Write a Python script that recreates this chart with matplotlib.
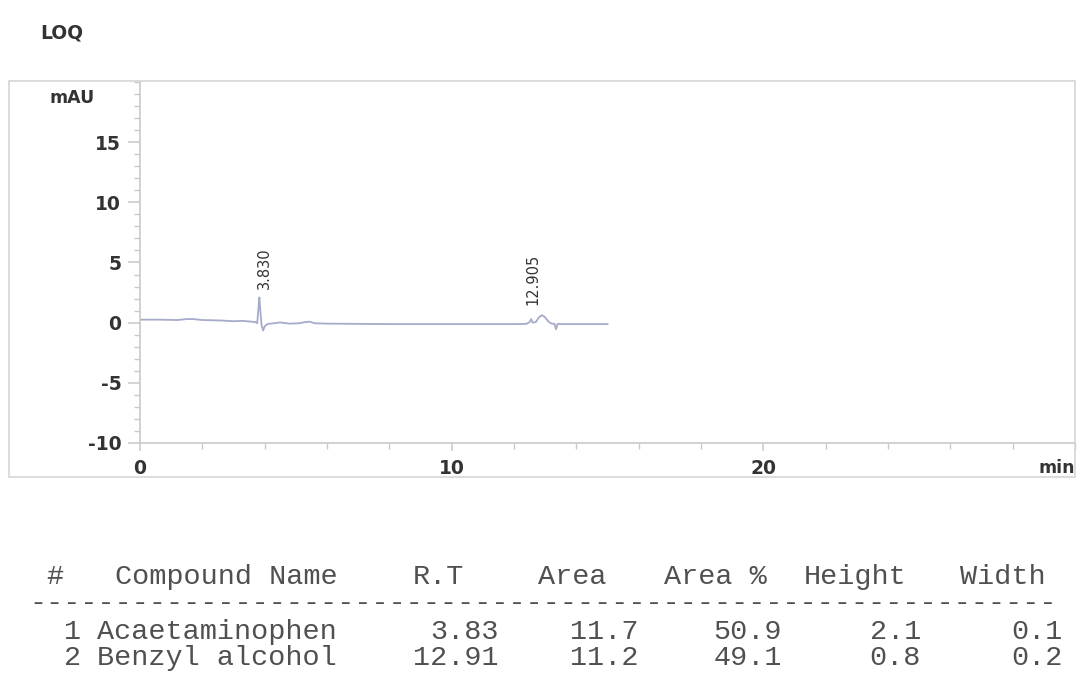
import numpy as np
import matplotlib.pyplot as plt
from matplotlib.patches import Rectangle
from matplotlib.ticker import MultipleLocator

plt.rcParams["axes.unicode_minus"] = False

# chromatogram trace (time in min, signal in mAU)
time_min = [0.0, 0.6, 1.2, 1.5, 1.7, 2.0, 2.6, 3.0, 3.3, 3.5, 3.7, 3.76, 3.8, 3.83,
            3.86, 3.9, 3.95, 4.0, 4.1, 4.3, 4.5, 4.8, 5.1, 5.3, 5.45, 5.6, 6.0,
            7.0, 8.0, 9.0, 10.0, 11.0, 12.0, 12.4, 12.5, 12.55, 12.6, 12.7, 12.8,
            12.9, 13.0, 13.1, 13.2, 13.3, 13.35, 13.4, 13.5, 14.0, 14.5, 15.0]
signal_mau = [0.25, 0.25, 0.22, 0.3, 0.3, 0.22, 0.18, 0.12, 0.15, 0.1, 0.05, -0.05, 1.2, 2.1,
              1.0, -0.2, -0.65, -0.3, -0.1, -0.05, 0.02, -0.08, -0.05, 0.05, 0.08, -0.05, -0.08,
              -0.1, -0.12, -0.12, -0.12, -0.12, -0.12, -0.1, 0.05, 0.3, 0.0, 0.05, 0.45,
              0.62, 0.45, 0.1, -0.08, -0.1, -0.55, -0.1, -0.12, -0.12, -0.12, -0.12]

peak_rt = [3.830, 12.905]
peak_top = [2.1, 0.8]

# integration results
compounds = ["Acaetaminophen", "Benzyl alcohol"]
rt_values = ["3.83", "12.91"]
area_values = ["11.7", "11.2"]
area_pct = ["50.9", "49.1"]
height_values = ["2.1", "0.8"]
width_values = ["0.1", "0.2"]

W, H = 1080, 684
fig = plt.figure(figsize=(W / 100, H / 100), dpi=100)

def fx(px):
    return px / W

def fy(py):
    return 1 - py / H

grey_txt = "#333333"
line_col = "#c9c9c9"
sans = "DejaVu Sans"

fig.text(fx(40), fy(33), "LOQ", fontsize=13.5, fontweight="bold", color=grey_txt,
         family=sans, va="center", ha="left")

# outer frame around the plot
fig.add_artist(Rectangle((fx(9), fy(477)), fx(1075) - fx(9), fy(81) - fy(477),
                         transform=fig.transFigure, fill=False, edgecolor="#d6d6d6", lw=1.2))

ax = fig.add_axes([fx(140), fy(443), fx(1075) - fx(140), fy(82) - fy(443)])
ax.plot(time_min, signal_mau, color="#a6abc9", lw=1.3)
ax.set_xlim(0, 30)
ax.set_ylim(-10, 20)

for spine in ["top", "right"]:
    ax.spines[spine].set_visible(False)
for spine in ["left", "bottom"]:
    ax.spines[spine].set_color(line_col)
    ax.spines[spine].set_linewidth(1.2)

ax.set_xticks([0, 10, 20])
ax.xaxis.set_minor_locator(MultipleLocator(2))
ax.set_yticks([-10, -5, 0, 5, 10, 15])
ax.yaxis.set_minor_locator(MultipleLocator(1))
ax.tick_params(axis="y", which="major", length=9, width=1.1, color=line_col, pad=4.5)
ax.tick_params(axis="y", which="minor", length=4.5, width=1.0, color=line_col)
ax.tick_params(axis="x", which="major", length=5.5, width=1.1, color=line_col, pad=6)
ax.tick_params(axis="x", which="minor", length=4, width=1.0, color=line_col)
for lab in ax.get_xticklabels() + ax.get_yticklabels():
    lab.set_family(sans)
    lab.set_fontweight("bold")
    lab.set_fontsize(13.5)
    lab.set_color(grey_txt)

ax.text(-0.097, 0.955, "mAU", transform=ax.transAxes, fontsize=12.5, color=grey_txt,
        family=sans, fontweight="bold", ha="left", va="center")
ax.text(1.0, -0.068, "min", transform=ax.transAxes, fontsize=12.5, color=grey_txt,
        family=sans, fontweight="bold", ha="right", va="center")

label_dx = [4, -7]
for rt, top, dx in zip(peak_rt, peak_top, label_dx):
    ax.annotate(f"{rt:.3f}", (rt, top), xytext=(dx, 6), textcoords="offset points",
                rotation=90, fontsize=10.5, color=grey_txt, family=sans,
                ha="center", va="bottom")

# results table in fixed-width font
mono = dict(family="Liberation Mono", fontsize=20.5, color="#505050", va="center")
header_y = fy(577)
fig.text(fx(46), header_y, "#", ha="left", **mono)
fig.text(fx(115), header_y, "Compound Name", ha="left", **mono)
header_right = {"R.T": 464, "Area": 606, "Area %": 767, "Height": 906, "Width": 1046}
for name, xr in header_right.items():
    fig.text(fx(xr), header_y, name, ha="right", **mono)

fig.text(fx(29), fy(603), "-" * 60, ha="left", **mono)

col_right = [499, 638, 782, 921, 1063]
row_y = [632, 658]
for i, name in enumerate(compounds):
    y = fy(row_y[i])
    fig.text(fx(81), y, str(i + 1), ha="right", **mono)
    fig.text(fx(97), y, name, ha="left", **mono)
    vals = [rt_values[i], area_values[i], area_pct[i], height_values[i], width_values[i]]
    for v, xr in zip(vals, col_right):
        fig.text(fx(xr), y, v, ha="right", **mono)

fig.savefig("out.png", dpi=100)
